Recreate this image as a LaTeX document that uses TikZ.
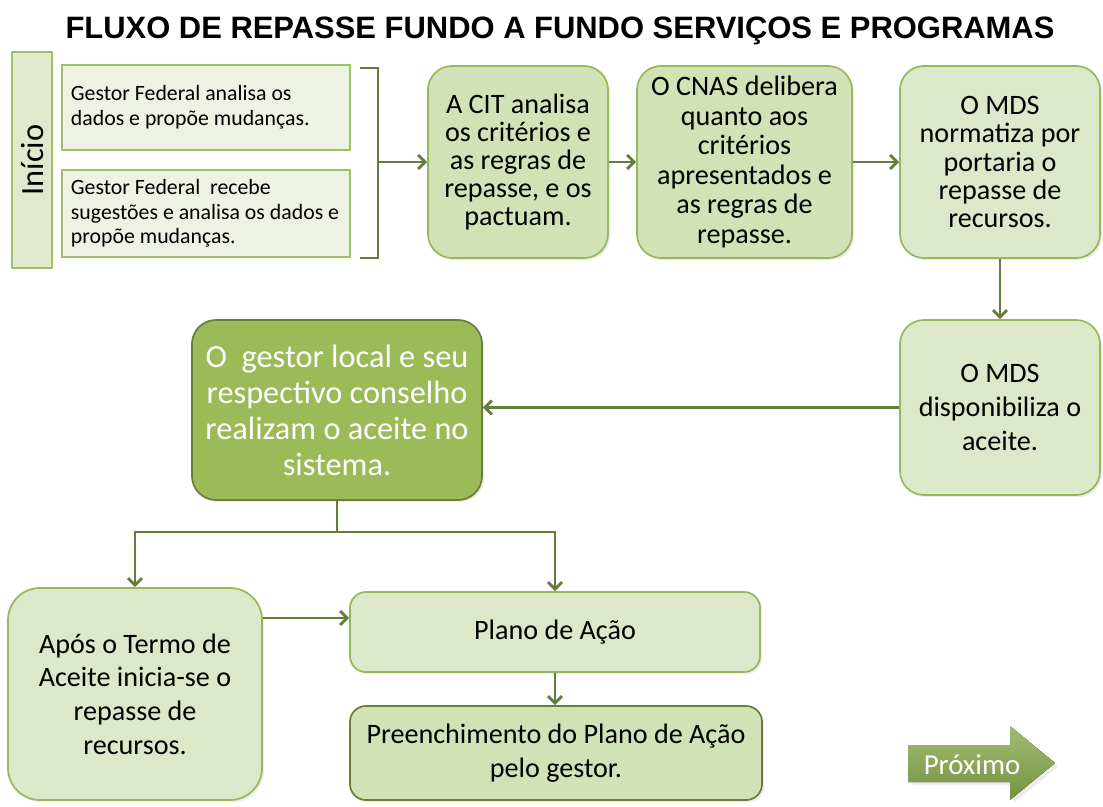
\documentclass[tikz,border=0pt]{standalone}
\usepackage{fontspec}
\setmainfont{Carlito}
\newfontfamily\titlefont{Liberation Sans}
\usepackage{tikz}
\usetikzlibrary{shadows,arrows.meta}
\definecolor{verdeseta}{RGB}{98,126,58}
\definecolor{linhaclara}{RGB}{160,192,104}
\definecolor{linhaverde}{RGB}{150,184,90}
\definecolor{linhaescura}{RGB}{104,126,58}
\definecolor{fundoclaro}{RGB}{238,242,226}
\definecolor{fundoinicio}{RGB}{224,233,206}
\definecolor{fundomedio}{RGB}{211,225,182}
\definecolor{fundopalido}{RGB}{221,231,202}
\definecolor{fundoescuro}{RGB}{155,187,89}
\definecolor{setaproximo}{RGB}{138,172,78}

\begin{document}
\begin{tikzpicture}[x=0.025cm,y=-0.025cm,>={Straight Barb[length=5pt,width=10pt]},
  etapa/.style={draw=linhaverde,line width=1.2pt,fill=fundopalido,rounded corners=0.6cm,align=center,inner sep=0pt,
    drop shadow={opacity=0.15,shadow xshift=1.5pt,shadow yshift=-1.5pt}},
  gestorbox/.style={draw=linhaclara,line width=1.2pt,fill=fundoclaro,minimum width=7.2cm,text width=6.75cm,inner xsep=0.225cm,
    align=flush left,font={\fontsize{15.5}{17.5}\selectfont}},
  texto1/.style={font={\fontsize{20}{20}\selectfont}},
  texto2/.style={font={\fontsize{20}{24}\selectfont}},
  seta/.style={->,draw=verdeseta,line width=2pt}]
\fill[white] (0,0) rectangle (1103,807);
\useasboundingbox (0,0) rectangle (1103,807);
\node[font={\titlefont\bfseries\fontsize{22}{22}\selectfont}] (titulo) at (560,31) {FLUXO DE REPASSE FUNDO A FUNDO SERVIÇOS E PROGRAMAS};
\node[rotate=90,draw=linhaclara,line width=1.2pt,fill=fundoinicio,minimum width=5.4cm,minimum height=1cm,inner sep=0pt,
  font={\fontsize{23}{23}\selectfont}] (inicio) at (32,160) {Início};
\node[gestorbox,minimum height=2.125cm] (ga) at (206,107.5) {Gestor Federal analisa os\\dados e propõe mudanças.};
\node[gestorbox,minimum height=2.175cm] (gb) at (206,213.5) {Gestor Federal~ recebe\\sugestões e analisa os dados e\\propõe mudanças.};
\draw[verdeseta,line width=2pt] (360,68) -- (378,68) -- (378,258) -- (360,258);
\coordinate (chave) at (378,162);
\node[etapa,texto1,fill=fundomedio,minimum width=4.5cm,minimum height=4.8cm] (cit) at (518,162) {A CIT analisa\\os critérios e\\as regras de\\repasse, e os\\pactuam.};
\node[etapa,texto1,fill=fundomedio,minimum width=5.375cm,minimum height=4.8cm,font={\fontsize{20}{21}\selectfont}] (cnas) at (744.5,162) {O CNAS delibera\\quanto aos\\critérios\\apresentados e\\as regras de\\repasse.};
\node[etapa,texto1,minimum width=5cm,minimum height=4.8cm] (mds1) at (1000,162) {O MDS\\normatiza por\\portaria o\\repasse de\\recursos.};
\node[etapa,texto2,minimum width=5cm,minimum height=4.375cm] (mds2) at (1000,407.5) {O MDS\\disponibiliza o\\aceite.};
\node[etapa,fill=fundoescuro,draw=linhaescura,text=white,minimum width=7.25cm,minimum height=4.5cm,
  font={\fontsize{23}{25.6}\selectfont}] (gestor) at (337,410) {O~ gestor local e seu\\respectivo conselho\\realizam o aceite no\\sistema.};
\node[etapa,texto2,rounded corners=0.8cm,minimum width=6.35cm,minimum height=5.3cm] (apos) at (135,694) {Após o Termo de\\Aceite inicia-se o\\repasse de\\recursos.};
\node[etapa,texto2,rounded corners=0.4cm,minimum width=10.25cm,minimum height=2cm] (plano) at (555,632) {Plano de Ação};
\node[etapa,texto2,fill=fundomedio,draw=linhaescura,rounded corners=0.4cm,minimum width=10.3cm,minimum height=2.35cm] (preench) at (556,753) {Preenchimento do Plano de Ação\\pelo gestor.};
\draw[seta] (chave) -- (cit);
\draw[seta] (cit) -- (cnas);
\draw[seta] (cnas) -- (mds1);
\draw[seta] (mds1) -- (mds2);
\draw[seta] (mds2) -- (mds2 -| gestor.east);
\coordinate (ramo) at (337,532);
\draw[verdeseta,line width=2pt] (gestor.south) -- (ramo);
\draw[seta] (ramo) -| (apos.north);
\draw[seta] (ramo) -| (plano.north);
\coordinate (nivel) at (0,618);
\draw[seta] (apos.east |- nivel) -- (plano.west |- nivel);
\draw[seta] (plano.south) -- (plano.south |- preench.north);
\fill[top color=setaproximo!80!white,bottom color=setaproximo!85!black,drop shadow={opacity=0.15}]
  (908,745) -- (1010,745) -- (1010,726) -- (1055,763) -- (1010,800) -- (1010,782) -- (908,782) -- cycle;
\node[text=white,font={\fontsize{20.5}{20.5}\selectfont}] (proximo) at (972,765) {Próximo};
\end{tikzpicture}
\end{document}
